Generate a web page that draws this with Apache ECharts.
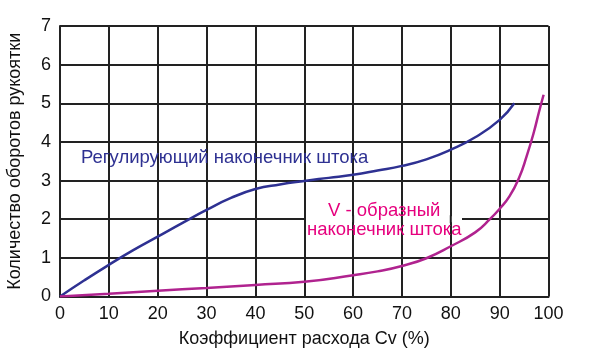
<!DOCTYPE html>
<html><head><meta charset="utf-8">
<script src="https://cdn.jsdelivr.net/npm/echarts@6/dist/echarts.min.js"></script>
<style>html,body{margin:0;padding:0;background:#fff}#c{width:590px;height:363px}</style>
</head><body><div id="c"></div>
<script>
const xTicks = [0,10,20,30,40,50,60,70,80,90,100];
const yTicks = [0,1,2,3,4,5,6,7];
const regulX = [0,5,10,15,20,25,30,35,40,45,50,55,60,65,70,75,80,85,90,93];
const regulY = [0,0.42,0.82,1.2,1.55,1.9,2.24,2.55,2.78,2.9,2.99,3.07,3.15,3.26,3.38,3.55,3.8,4.12,4.57,5.0];
const vX = [0,10,20,30,40,50,60,65,70,75,80,85,88,90,92,94,95.5,97,98,99];
const vY = [0,0.07,0.15,0.22,0.3,0.38,0.55,0.65,0.79,0.99,1.3,1.66,2.0,2.27,2.59,3.08,3.62,4.25,4.75,5.22];
const label1 = 'Регулирующий наконечник штока';
const label2 = ['V - образный','наконечник штока'];
const xName = 'Коэффициент расхода Cv (%)';
const yName = 'Количество оборотов рукоятки';

const chart = echarts.init(document.getElementById('c'));
const font = 'Liberation Sans, Arial, sans-serif';
const axisCommon = {
  axisLine:{show:true,lineStyle:{color:'#222',width:2}},
  axisTick:{show:false},
  splitLine:{show:true,lineStyle:{color:'#222',width:2}},
  axisLabel:{color:'#111',fontSize:18,fontFamily:font,margin:9},
  nameLocation:'middle',
  nameTextStyle:{color:'#111',fontSize:18,fontFamily:font}
};
chart.setOption({
  animation:false,
  grid:{left:60,right:41.5,top:26,bottom:66.5,containLabel:false,outerBoundsMode:'none'},
  xAxis:Object.assign({type:'value',min:0,max:100,interval:10,name:xName,nameGap:34},axisCommon),
  yAxis:Object.assign({type:'value',min:0,max:7,interval:1,name:yName,nameGap:36},axisCommon),
  series:[
    {type:'line',data:regulX.map((x,i)=>[x,regulY[i]]),smooth:0.5,showSymbol:false,
     lineStyle:{color:'#2e3192',width:2.5},z:5},
    {type:'line',data:vX.map((x,i)=>[x,vY[i]]),smooth:0.5,showSymbol:false,
     lineStyle:{color:'#b0238f',width:2.5},z:5}
  ]
});
// gap in the y=2 grid line under the second label, vertical grid lines kept
const p0 = chart.convertToPixel({gridIndex:0},[50,2]);
const gx0 = 306, gx1 = 462;
const g = [
  {type:'rect',shape:{x:gx0,y:p0[1]-3,width:gx1-gx0,height:6},style:{fill:'#fff'},z:10}
];
[60,70,80].forEach(v=>{
  const p = chart.convertToPixel({gridIndex:0},[v,2]);
  g.push({type:'line',shape:{x1:p[0],y1:p[1]-4,x2:p[0],y2:p[1]+4},style:{stroke:'#222',lineWidth:2},z:11});
});
g.push({type:'text',left:81,top:148,style:{text:label1,fill:'#2e3192',font:'18.5px '+font},z:12});
g.push({type:'text',left:328,top:201,style:{text:label2[0],fill:'#e6007e',font:'18.5px '+font},z:12});
g.push({type:'text',left:307,top:220,style:{text:label2[1],fill:'#e6007e',font:'18.5px '+font},z:12});
chart.setOption({graphic:g});
</script></body></html>
